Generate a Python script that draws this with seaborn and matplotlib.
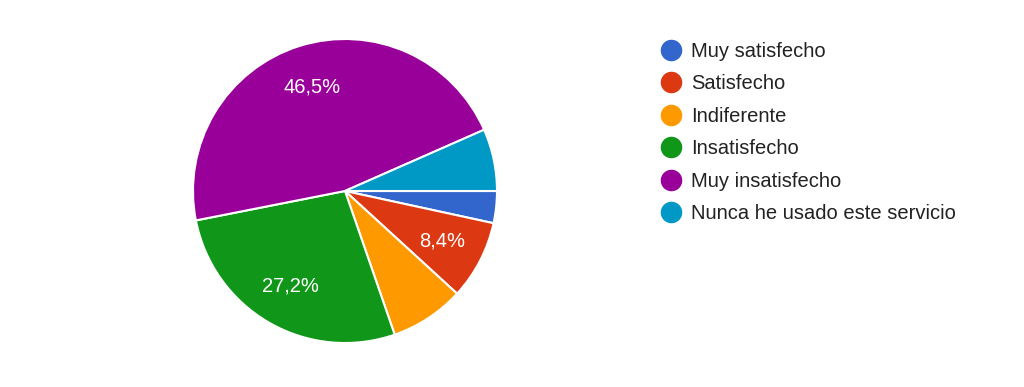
import matplotlib
matplotlib.use("Agg")
import matplotlib.pyplot as plt
from matplotlib.lines import Line2D
import seaborn as sns

categories = ["Muy satisfecho", "Satisfecho", "Indiferente", "Insatisfecho",
              "Muy insatisfecho", "Nunca he usado este servicio"]
values = [3.4, 8.4, 7.9, 27.2, 46.5, 6.6]
colors = ["#3366CC", "#DC3912", "#FF9900", "#109618", "#990099", "#0099C6"]

sns.set_theme(style="white")
plt.rcParams['font.family'] = ['Liberation Sans', 'DejaVu Sans']

W, H = 1024, 387
fig = plt.figure(figsize=(W / 100, H / 100), dpi=100)
cx, cy, r = 345, 191, 152
lim = 1.05
half = r * lim
ax = fig.add_axes([(cx - half) / W, (H - cy - half) / H, 2 * half / W, 2 * half / H])

def fmt(p):
    return f"{p:.1f}%".replace(".", ",") if p >= 8.2 else ""

wedges, texts, autotexts = ax.pie(
    values, colors=colors, startangle=0, counterclock=False, radius=1,
    autopct=fmt, pctdistance=0.72,
    wedgeprops=dict(edgecolor="white", linewidth=1.5),
    textprops=dict(color="white", fontsize=14.5),
)
ax.set_xlim(-lim, lim)
ax.set_ylim(-lim, lim)
ax.set_aspect("equal")
ax.axis("off")

handles = [Line2D([0], [0], marker="o", linestyle="", markersize=14.5,
                  markerfacecolor=c, markeredgecolor=c) for c in colors]
fig.legend(handles, categories, loc="upper left",
           bbox_to_anchor=(661 / W, 1 - 42 / H), frameon=False,
           fontsize=14.5, labelcolor="#222222", handletextpad=0.5,
           labelspacing=0.665, handlelength=1.0, borderaxespad=0, borderpad=0)

fig.savefig("out.png", dpi=100, facecolor="white")
